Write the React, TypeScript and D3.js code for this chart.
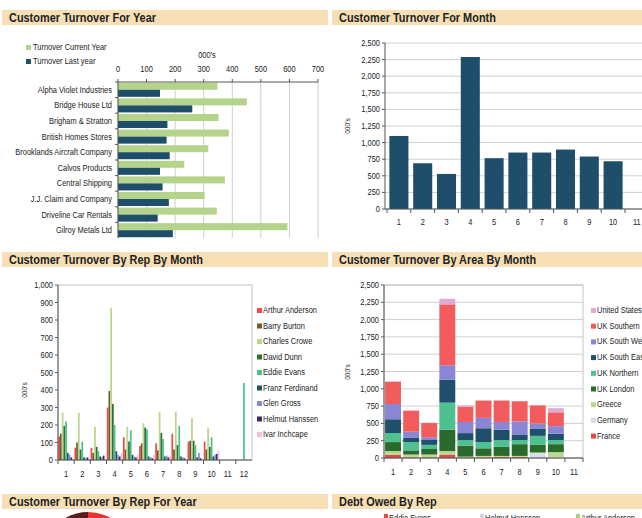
import * as d3 from 'd3'

// Customer Turnover For Year
const customers = ['Alpha Violet Industries', 'Bridge House Ltd', 'Brigham & Stratton', 'British Homes Stores', 'Brooklands Aircraft Company', 'Calvos Products', 'Central Shipping', 'J.J. Claim and Company', 'Driveline Car Rentals', 'Gilroy Metals Ltd']
const turnoverCurrent = [348, 451, 352, 388, 316, 232, 374, 303, 346, 593]
const turnoverLast = [147, 260, 173, 170, 181, 147, 156, 178, 139, 192]
const yearTicks = [0, 100, 200, 300, 400, 500, 600, 700]

// Customer Turnover For Month
const months = ['1', '2', '3', '4', '5', '6', '7', '8', '9', '10', '11', '12']
const monthTotals = [1100, 689, 528, 2289, 765, 850, 850, 895, 790, 719, 0, 0]
const monthTicks = [0, 250, 500, 750, 1000, 1250, 1500, 1750, 2000, 2250, 2500]

// Customer Turnover By Rep By Month
const reps = ['Arthur Anderson', 'Barry Burton', 'Charles Crowe', 'David Dunn', 'Eddie Evans', 'Franz Ferdinand', 'Glen Gross', 'Helmut Hanssen', 'Ivar Inchcape']
const repColors = ['#ee4b4b', '#6e5a2c', '#b8d68c', '#2f6f33', '#4cc08e', '#1f5568', '#8b87d8', '#3b2a5c', '#efbfdd']
const arthur = [135, 70, 70, 300, 130, 80, 95, 150, 105, 105, 0, 0]
const barry = [150, 100, 40, 395, 60, 95, 55, 60, 110, 60, 0, 0]
const charles = [270, 270, 190, 870, 190, 210, 275, 275, 240, 185, 0, 0]
const david = [195, 60, 75, 320, 105, 185, 155, 85, 110, 75, 0, 0]
const eddie = [220, 105, 50, 200, 170, 175, 120, 195, 85, 130, 0, 440]
const franz = [40, 15, 20, 50, 30, 20, 20, 20, 15, 20, 0, 0]
const glen = [30, 10, 15, 30, 20, 15, 25, 15, 40, 30, 0, 0]
const helmut = [15, 15, 25, 20, 15, 10, 15, 10, 10, 35, 0, 0]
const ivar = [5, 5, 5, 40, 30, 30, 20, 5, 5, 50, 0, 0]
const repValues = [arthur, barry, charles, david, eddie, franz, glen, helmut, ivar]
const repTicks = [0, 100, 200, 300, 400, 500, 600, 700, 800, 900, 1000]

// Customer Turnover By Area By Month (stack order, bottom to top)
const areaMonths = ['1', '2', '3', '4', '5', '6', '7', '8', '9', '10', '11']
const areas = ['France', 'Germany', 'Greece', 'UK London', 'UK Northern', 'UK South East', 'UK South West', 'UK Southern', 'United States']
const areaColors = ['#e04848', '#d9dcef', '#b9d992', '#2a6a2c', '#4fc190', '#1f4f6b', '#8a86d6', '#f25c5c', '#e2a9d3']
const france = [45, 10, 10, 50, 10, 10, 15, 15, 5, 5, 0]
const germany = [0, 0, 0, 0, 0, 0, 0, 0, 60, 10, 0]
const greece = [55, 40, 40, 50, 10, 20, 15, 15, 15, 70, 0]
const ukLondon = [130, 60, 80, 310, 160, 110, 130, 170, 110, 115, 0]
const ukNorthern = [130, 120, 60, 390, 80, 90, 100, 60, 130, 60, 0]
const ukSouthEast = [200, 60, 70, 330, 100, 200, 150, 80, 100, 90, 0]
const ukSouthWest = [220, 90, 40, 210, 160, 150, 110, 190, 80, 110, 0]
const ukSouthern = [320, 300, 205, 880, 220, 250, 310, 290, 260, 200, 0]
const unitedStates = [10, 10, 5, 80, 20, 0, 0, 0, 0, 60, 0]
const areaValues = [france, germany, greece, ukLondon, ukNorthern, ukSouthEast, ukSouthWest, ukSouthern, unitedStates]

// Customer Turnover By Rep For Year (only the top of the pie shows)
const pieShares = [22, 14, 18, 12, 10, 8, 16]
const pieColors = ['#e8342e', '#f26a3c', '#f5a05a', '#c83a3a', '#9e2a2a', '#7a2222', '#5b1c1c']

// Debt Owed By Rep legend
const debtReps = ['Eddie Evans', 'Helmut Hanssen', 'Arthur Anderson']
const debtColors = ['#e84848', '#cfd3e6', '#a9cf7e']

const FONT = "'Liberation Sans', Arial, sans-serif"
const HEADER = '#f6dfb5'
const GRID = '#cfcfcf'
const AXIS = '#555'
const GREEN = '#b4d48c'
const NAVY = '#1f4e6b'
const SX = 0.83

// narrow text: the reference uses a condensed face, so squeeze Liberation Sans horizontally
const T = ({ x, y, children, anchor = 'start', size = 9, bold = false, rotate = 0, sx = SX }) => (
	<text
		transform={`translate(${x},${y})${rotate ? ` rotate(${rotate})` : ''} scale(${sx},1)`}
		textAnchor={anchor}
		fontSize={size}
		fontWeight={bold ? 'bold' : 'normal'}
		fill="#222"
	>
		{children}
	</text>
)

const Header = ({ x, y, w, title }) => (
	<g>
		<rect x={x} y={y} width={w} height={15} fill={HEADER} />
		<T x={x + 7} y={y + 12} size={13} bold sx={0.84}>
			{title}
		</T>
	</g>
)

export default function App() {
	const fmt = d3.format(',')

	// top-left
	const xYear = d3.scaleLinear().domain([0, 700]).range([118, 318])
	const yCust = d3.scaleBand().domain(customers).range([82, 238]).paddingInner(0.1).paddingOuter(0.05)
	const custStep = yCust.step()
	const half = yCust.bandwidth() / 2

	// top-right
	const xMonth = d3.scaleBand().domain(months).range([387, 387 + 12 * 23.8]).paddingInner(0.2).paddingOuter(0.1)
	const yMonth = d3.scaleLinear().domain([0, 2500]).range([209, 43])

	// middle-left
	const xRep = d3.scaleBand().domain(months).range([58, 252])
	const xRepInner = d3.scaleBand().domain(reps).range([0, xRep.bandwidth()]).paddingOuter(0.15)
	const yRep = d3.scaleLinear().domain([0, 1000]).range([460, 285])

	// middle-right
	const xArea = d3.scaleBand().domain(areaMonths).range([384, 583]).paddingInner(0.12).paddingOuter(0.06)
	const yArea = d3.scaleLinear().domain([0, 2500]).range([458, 285])
	const stackRows = areaMonths.map((m, i) => {
		const row = { month: m }
		areas.forEach((a, j) => (row[a] = areaValues[j][i]))
		return row
	})
	const stacked = d3.stack().keys(areas)(stackRows)

	// pie
	const arcs = d3.pie().sort(null)(pieShares)
	const arcGen = d3.arc().innerRadius(0).outerRadius(46)

	return (
		<svg width={642} height={518} style={{ position: 'absolute', left: 0, top: 0, background: '#fff' }} fontFamily={FONT}>
			<rect width={642} height={518} fill="#fff" />

			{/* ---------- Customer Turnover For Year ---------- */}
			<Header x={2} y={10} w={326} title="Customer Turnover For Year" />
			<rect x={26} y={45} width={5} height={5} fill={GREEN} />
			<T x={33} y={50}>Turnover Current Year</T>
			<rect x={26} y={59} width={5} height={5} fill={NAVY} />
			<T x={33} y={64}>Turnover Last year</T>
			<T x={207} y={58} anchor="middle">000's</T>
			{yearTicks.map((t) => (
				<g key={t}>
					<line x1={xYear(t)} x2={xYear(t)} y1={82} y2={238} stroke={GRID} />
					<line x1={xYear(t)} x2={xYear(t)} y1={79} y2={82} stroke={AXIS} />
					<T x={xYear(t)} y={72} anchor="middle">{t}</T>
				</g>
			))}
			{customers.map((c, i) => (
				<g key={c}>
					<rect x={xYear(0)} y={yCust(c)} width={xYear(turnoverCurrent[i]) - xYear(0)} height={half} fill={GREEN} />
					<rect x={xYear(0)} y={yCust(c) + half} width={xYear(turnoverLast[i]) - xYear(0)} height={half} fill={NAVY} />
					<T x={112} y={yCust(c) + half + 3} anchor="end">{c}</T>
					<line x1={115} x2={118} y1={82 + i * custStep} y2={82 + i * custStep} stroke={AXIS} />
				</g>
			))}
			<line x1={118} x2={318} y1={82} y2={82} stroke={AXIS} />
			<line x1={118} x2={118} y1={82} y2={238} stroke={AXIS} />

			{/* ---------- Customer Turnover For Month ---------- */}
			<Header x={332} y={10} w={310} title="Customer Turnover For Month" />
			{monthTicks.map((t) => (
				<g key={t}>
					<line x1={385} x2={680} y1={yMonth(t)} y2={yMonth(t)} stroke={GRID} />
					<line x1={382} x2={385} y1={yMonth(t)} y2={yMonth(t)} stroke={AXIS} />
					<T x={380} y={yMonth(t) + 3} anchor="end">{fmt(t)}</T>
				</g>
			))}
			<T x={350} y={126} anchor="middle" size={8} rotate={-90}>000's</T>
			{months.map((m, i) => (
				<g key={m}>
					<rect x={xMonth(m)} y={yMonth(monthTotals[i])} width={xMonth.bandwidth()} height={yMonth(0) - yMonth(monthTotals[i])} fill={NAVY} />
					<line x1={387 + i * xMonth.step()} x2={387 + i * xMonth.step()} y1={209} y2={213} stroke={AXIS} />
					<T x={xMonth(m) + xMonth.bandwidth() / 2} y={225} anchor="middle">{m}</T>
				</g>
			))}
			<line x1={385} x2={680} y1={209} y2={209} stroke={AXIS} />
			<line x1={385} x2={385} y1={43} y2={209} stroke={AXIS} />

			{/* ---------- Customer Turnover By Rep By Month ---------- */}
			<Header x={2} y={252} w={326} title="Customer Turnover By Rep By Month" />
			{repTicks.map((t) => (
				<g key={t}>
					<line x1={55} x2={58} y1={yRep(t)} y2={yRep(t)} stroke={AXIS} />
					<T x={53} y={yRep(t) + 3} anchor="end">{fmt(t)}</T>
				</g>
			))}
			<T x={27} y={390} anchor="middle" size={8} rotate={-90}>000's</T>
			<rect x={58} y={285} width={194} height={175} fill="none" stroke="#c4c4c4" />
			{months.map((m, i) => (
				<g key={m}>
					{reps.map((r, j) =>
						repValues[j][i] > 0 ? (
							<rect key={r} x={xRep(m) + xRepInner(r)} y={yRep(repValues[j][i])} width={xRepInner.bandwidth()} height={yRep(0) - yRep(repValues[j][i])} fill={repColors[j]} />
						) : null
					)}
					<line x1={58 + i * xRep.step()} x2={58 + i * xRep.step()} y1={460} y2={464} stroke={AXIS} />
					<T x={xRep(m) + xRep.bandwidth() / 2} y={477} anchor="middle">{m}</T>
				</g>
			))}
			<line x1={58} x2={252} y1={460} y2={460} stroke={AXIS} />
			<line x1={58} x2={58} y1={285} y2={460} stroke={AXIS} />
			{reps.map((r, j) => (
				<g key={r}>
					<rect x={257} y={308 + j * 15.5} width={5} height={5} fill={repColors[j]} />
					<T x={263} y={313 + j * 15.5}>{r}</T>
				</g>
			))}

			{/* ---------- Customer Turnover By Area By Month ---------- */}
			<Header x={332} y={252} w={310} title="Customer Turnover By Area By Month" />
			{monthTicks.map((t) => (
				<g key={t}>
					<line x1={384} x2={583} y1={yArea(t)} y2={yArea(t)} stroke={GRID} />
					<line x1={381} x2={384} y1={yArea(t)} y2={yArea(t)} stroke={AXIS} />
					<T x={379} y={yArea(t) + 3} anchor="end">{fmt(t)}</T>
				</g>
			))}
			<T x={350} y={372} anchor="middle" size={8} rotate={-90}>000's</T>
			<rect x={384} y={285} width={199} height={173} fill="none" stroke="#c4c4c4" />
			{stacked.map((s, j) => (
				<g key={s.key} fill={areaColors[j]}>
					{s.map((d, i) =>
						d[1] > d[0] ? (
							<rect key={i} x={xArea(areaMonths[i])} y={yArea(d[1])} width={xArea.bandwidth()} height={yArea(d[0]) - yArea(d[1])} />
						) : null
					)}
				</g>
			))}
			{areaMonths.map((m, i) => (
				<g key={m}>
					<line x1={384 + i * xArea.step()} x2={384 + i * xArea.step()} y1={458} y2={462} stroke={AXIS} />
					<T x={xArea(m) + xArea.bandwidth() / 2} y={475} anchor="middle">{m}</T>
				</g>
			))}
			<line x1={583} x2={583} y1={458} y2={462} stroke={AXIS} />
			<line x1={384} x2={583} y1={458} y2={458} stroke={AXIS} />
			<line x1={384} x2={384} y1={285} y2={458} stroke={AXIS} />
			{areas
				.slice()
				.reverse()
				.map((a, k) => (
					<g key={a}>
						<rect x={591} y={308 + k * 15.7} width={5} height={5} fill={areaColors[areas.length - 1 - k]} />
						<T x={597} y={313 + k * 15.7}>{a}</T>
					</g>
				))}

			{/* ---------- Bottom row ---------- */}
			<Header x={2} y={494} w={326} title="Customer Turnover By Rep For Year" />
			<g transform="translate(88,558)">
				{arcs.map((a, i) => (
					<path key={i} d={arcGen(a)} fill={pieColors[i]} />
				))}
			</g>
			<Header x={332} y={494} w={310} title="Debt Owed By Rep" />
			{debtReps.map((r, i) => (
				<g key={r}>
					<rect x={384 + i * 96} y={514} width={4} height={4} fill={debtColors[i]} />
					<T x={389 + i * 96} y={521}>{r}</T>
				</g>
			))}
		</svg>
	)
}
